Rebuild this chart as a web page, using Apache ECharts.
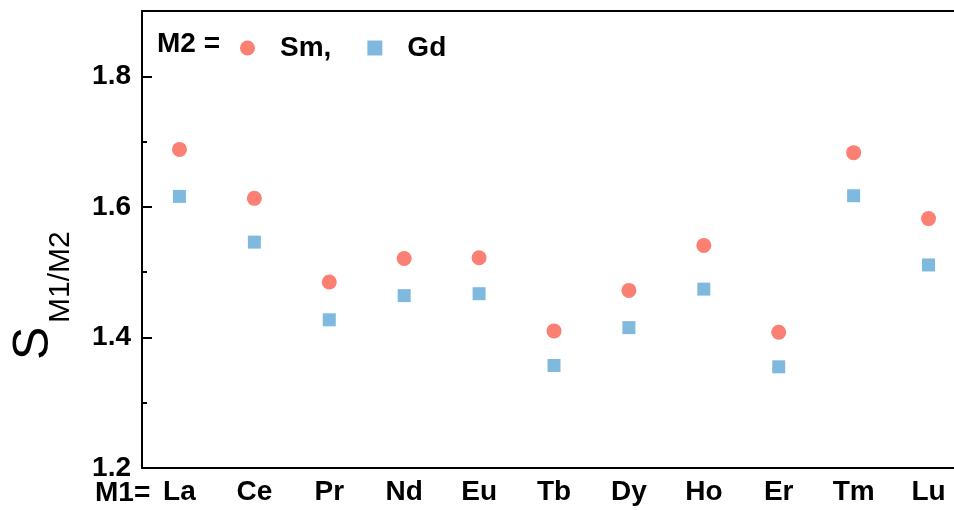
<!DOCTYPE html>
<html>
<head>
<meta charset="utf-8">
<script src="https://cdn.jsdelivr.net/npm/echarts@6/dist/echarts.min.js"></script>
<style>
html,body{margin:0;padding:0;background:#fff;}
#chart{width:954px;height:510px;}
</style>
</head>
<body>
<div id="chart"></div>
<script>
const categories = ['La','Ce','Pr','Nd','Eu','Tb','Dy','Ho','Er','Tm','Lu'];
const smValues = [1.688,1.613,1.485,1.521,1.522,1.410,1.472,1.541,1.408,1.683,1.582];
const gdValues = [1.616,1.546,1.427,1.464,1.467,1.357,1.415,1.474,1.355,1.617,1.511];
const yTicks = [1.2,1.4,1.6,1.8];

const FONT = '"Liberation Sans", Arial, sans-serif';
const chart = echarts.init(document.getElementById('chart'));
chart.setOption({
  backgroundColor: '#ffffff',
  animation: false,
  grid: {left: 142, top: 11, width: 824, height: 457, outerBoundsMode: 'none', containLabel: false},
  legend: {
    left: 235, top: 29,
    itemWidth: 15, itemHeight: 15, itemGap: 36,
    textStyle: {fontFamily: FONT, fontSize: 28, fontWeight: 'bold', color: '#000', padding: [0,0,0,20]},
    data: [{name: 'Sm,', icon: 'circle'}, {name: 'Gd', icon: 'rect'}]
  },
  xAxis: [{
    type: 'category', data: categories, boundaryGap: true, position: 'bottom',
    axisLine: {lineStyle: {color: '#000', width: 2}},
    axisTick: {inside: true, length: 9, alignWithLabel: true, lineStyle: {color: '#000', width: 2}},
    axisLabel: {margin: 10, fontFamily: FONT, fontSize: 28, fontWeight: 'bold', color: '#000'},
    splitLine: {show: false}
  }, {
    type: 'category', data: categories, position: 'top',
    axisLine: {lineStyle: {color: '#000', width: 2}},
    axisTick: {show: false}, axisLabel: {show: false}, splitLine: {show: false}
  }],
  yAxis: [{
    type: 'value', min: 1.2, max: 1.9, interval: 0.2, position: 'left',
    axisLine: {show: true, lineStyle: {color: '#000', width: 2}},
    axisTick: {show: true, inside: true, length: 10, lineStyle: {color: '#000', width: 2}},
    axisLabel: {margin: 11, showMaxLabel: false, fontFamily: FONT, fontSize: 28, fontWeight: 'bold', color: '#000',
      formatter: v => yTicks.some(t => Math.abs(t - v) < 1e-6) ? v.toFixed(1) : ''},
    splitLine: {show: false}
  }, {
    type: 'value', min: 1.2, max: 1.9, interval: 0.1, position: 'left',
    axisLine: {show: false},
    axisTick: {show: true, inside: true, length: 5, lineStyle: {color: '#000', width: 2}},
    axisLabel: {show: false}, splitLine: {show: false}
  }],
  graphic: [
    {type: 'text', left: 157, top: 30, style: {text: 'M2 =', font: 'bold 28px ' + FONT, fill: '#000'}},
    {type: 'text', left: 95, top: 479, style: {text: 'M1=', font: 'bold 28px ' + FONT, fill: '#000'}},
    {type: 'group', x: 52, y: 360, rotation: Math.PI / 2, children: [
      {type: 'text', x: 0, y: -18, style: {text: 'S', font: '50px ' + FONT, fill: '#000', textAlign: 'left', textVerticalAlign: 'middle'}},
      {type: 'text', x: 37, y: 9, style: {text: 'M1/M2', font: '30px ' + FONT, fill: '#000', textAlign: 'left', textVerticalAlign: 'middle'}}
    ]}
  ],
  series: [{
    name: 'Sm,', type: 'scatter', data: smValues, symbol: 'circle', symbolSize: 15,
    itemStyle: {color: '#fb7f73', opacity: 1}
  }, {
    name: 'Gd', type: 'scatter', data: gdValues, symbol: 'rect', symbolSize: 13,
    itemStyle: {color: '#80b9de', opacity: 1}
  }]
});
</script>
</body>
</html>
